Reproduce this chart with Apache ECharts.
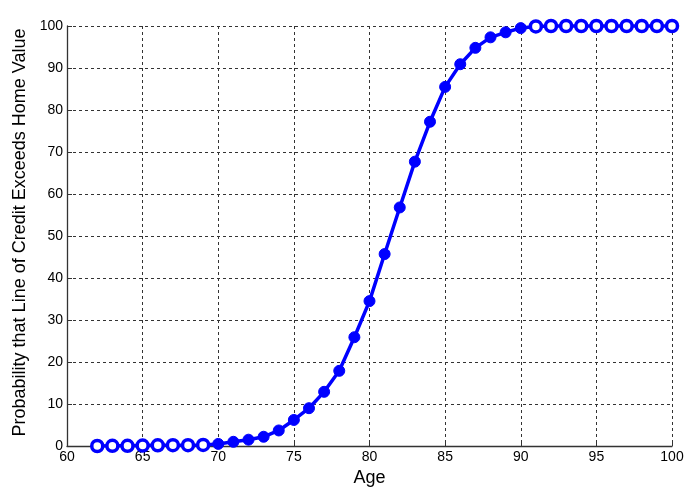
<!DOCTYPE html>
<html>
<head>
<meta charset="utf-8">
<script src="https://cdn.jsdelivr.net/npm/echarts@6/dist/echarts.min.js"></script>
<style>
html,body{margin:0;padding:0;background:#fff;}
#chart{width:700px;height:503px;}
</style>
</head>
<body>
<div id="chart"></div>
<script>
var ages = [62,63,64,65,66,67,68,69,70,71,72,73,74,75,76,77,78,79,80,81,82,83,84,85,86,87,88,89,90,91,92,93,94,95,96,97,98,99,100];
var probs = [0.0,0.05,0.05,0.1,0.15,0.2,0.2,0.25,0.5,1.0,1.5,2.2,3.7,6.2,9.0,12.9,17.9,25.9,34.5,45.7,56.8,67.7,77.2,85.5,90.9,94.8,97.3,98.5,99.5,99.9,100,100,100,100,100,100,100,100,100];
var xTicks = [60,65,70,75,80,85,90,95,100];
var yTicks = [0,10,20,30,40,50,60,70,80,90,100];

var blue = '#0000FF';
var data = ages.map(function(a, i){
  var v = probs[i];
  var filled = v > 0.3 && v < 99.8;
  return {
    value: [a, v],
    itemStyle: { color: filled ? blue : '#ffffff', borderColor: blue, borderWidth: filled ? 1 : 3.5 }
  };
});

var chart = echarts.init(document.getElementById('chart'), null, {renderer:'canvas'});
chart.setOption({
  animation: false,
  backgroundColor: '#ffffff',
  grid: { left: 67, right: 28, top: 26, bottom: 57, containLabel: false },
  xAxis: {
    type: 'value', min: xTicks[0], max: xTicks[xTicks.length-1], interval: 5,
    name: 'Age', nameLocation: 'middle', nameGap: 22,
    nameTextStyle: { fontFamily: 'Liberation Sans, Arial', fontSize: 18, color: '#000' },
    axisLine: { show: true, onZero: false, lineStyle: { color: '#333', width: 1.3 } },
    axisTick: { show: true, inside: true, length: 5, lineStyle: { color: '#333' } },
    axisLabel: { margin: 4, fontFamily: 'Liberation Sans, Arial', fontSize: 14, color: '#000' },
    splitLine: { show: true, lineStyle: { color: '#333', type: [3,3], width: 1 } }
  },
  yAxis: {
    type: 'value', min: yTicks[0], max: yTicks[yTicks.length-1], interval: 10,
    name: 'Probability that Line of Credit Exceeds Home Value', nameLocation: 'middle', nameGap: 37,
    nameTextStyle: { fontFamily: 'Liberation Sans, Arial', fontSize: 18, color: '#000', padding: [0, 0, 0, 7] },
    axisLine: { show: true, lineStyle: { color: '#333', width: 1.3 } },
    axisTick: { show: true, inside: true, length: 5, lineStyle: { color: '#333' } },
    axisLabel: { margin: 4, fontFamily: 'Liberation Sans, Arial', fontSize: 14, color: '#000' },
    splitLine: { show: true, lineStyle: { color: '#333', type: [3,3], width: 1 } }
  },
  series: [{
    type: 'line',
    data: data,
    symbol: 'circle',
    symbolSize: 11,
    lineStyle: { color: blue, width: 3.5 },
    clip: false,
    z: 5
  }]
});
</script>
</body>
</html>
